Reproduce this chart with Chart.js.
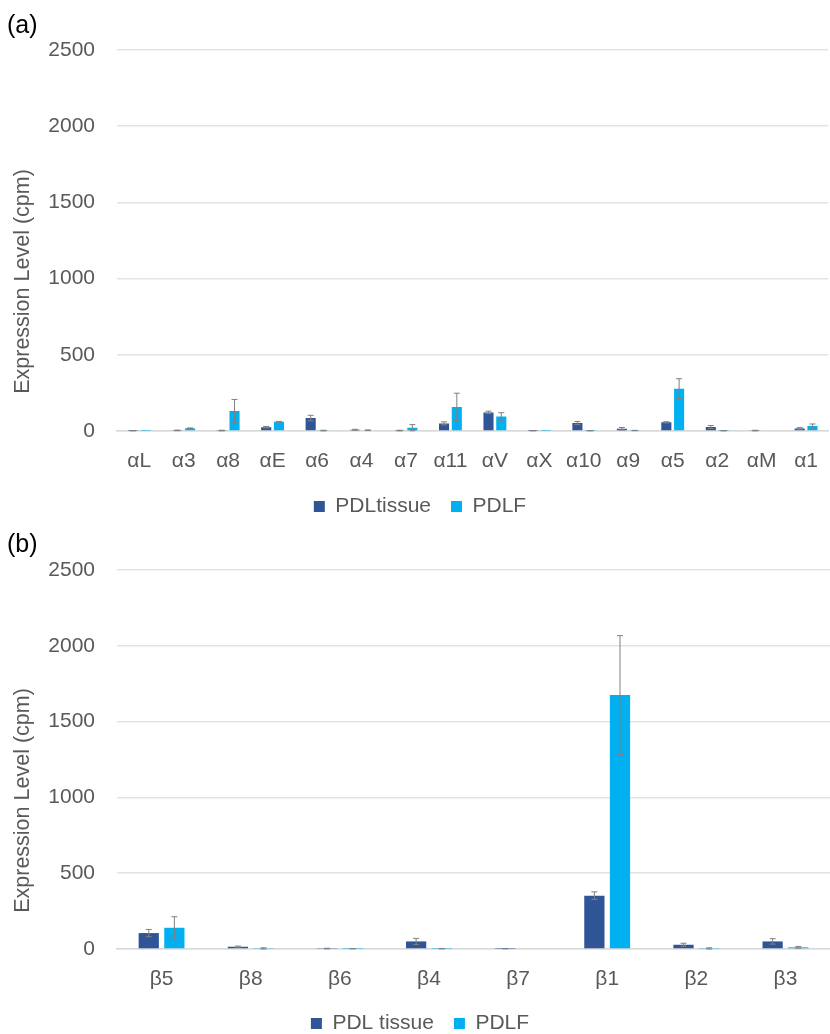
<!DOCTYPE html>
<html lang="en">
<head>
<meta charset="UTF-8">
<script src="https://cdn.jsdelivr.net/npm/chart.js@4/dist/chart.umd.min.js"></script>
<style>
*{margin:0;padding:0;box-sizing:border-box}
html,body{width:830px;height:1034px;overflow:hidden;background:#fff;font-family:"Liberation Sans",Arial,sans-serif}
.pnl{position:absolute;left:0;width:830px}
.tag{position:absolute;left:7px;font-size:25px;line-height:1;color:#000}
</style>
</head>
<body>
<div class="pnl" style="top:0;height:527px"><canvas id="ca" width="830" height="527"></canvas></div>
<div class="pnl" style="top:535px;height:509px"><canvas id="cb" width="830" height="509"></canvas></div>
<div class="tag" style="top:12px">(a)</div>
<div class="tag" style="top:531px">(b)</div>
<script>
// panel (a): alpha subunits
var alphaLabels = ["αL","α3","α8","αE","α6","α4","α7","α11","αV","αX","α10","α9","α5","α2","αM","α1"];
var alphaTissue = [2, 4, 3, 25, 85, 8, 3, 50, 122, 2, 52, 15, 57, 26, 3, 17];
var alphaTissueErr = [1, 2, 2, 5, 18, 3, 2, 10, 8, 1, 10, 8, 4, 10, 2, 5];
var alphaPdlf = [1, 18, 132, 60, 3, 5, 22, 158, 95, 2, 2, 3, 278, 2, 0, 33];
var alphaPdlfErr = [0, 2, 75, 3, 2, 2, 20, 90, 25, 0, 1, 1, 65, 1, 0, 13];

// panel (b): beta subunits
var betaLabels = ["β5","β8","β6","β4","β7","β1","β2","β3"];
var betaTissue = [105, 15, 3, 50, 2, 352, 28, 50];
var betaTissueErr = [24, 4, 2, 20, 1, 25, 10, 18];
var betaPdlf = [140, 3, 2, 2, 0, 1675, 3, 11];
var betaPdlfErr = [73, 5, 1, 1, 0, 392, 5, 6];

var yTicks = [0, 500, 1000, 1500, 2000, 2500];

var FONT = '"Liberation Sans", Arial, sans-serif';
Chart.defaults.font.family = FONT;
Chart.defaults.font.size = 21;
Chart.defaults.color = "#595959";

var errorBars = {
  id: "errorBars",
  afterDatasetsDraw: function(chart) {
    var ctx = chart.ctx, y = chart.scales.y;
    chart.data.datasets.forEach(function(ds, i) {
      var meta = chart.getDatasetMeta(i);
      meta.data.forEach(function(bar, j) {
        var v = ds.data[j], e = ds.errors[j];
        if (!e) return;
        var t = y.getPixelForValue(v + e), b = y.getPixelForValue(Math.max(v - e, 0));
        ctx.save();
        ctx.strokeStyle = "#808080";
        ctx.lineWidth = 1;
        ctx.beginPath();
        ctx.moveTo(bar.x, t); ctx.lineTo(bar.x, b);
        ctx.moveTo(bar.x - 3, t); ctx.lineTo(bar.x + 3, t);
        ctx.moveTo(bar.x - 3, b); ctx.lineTo(bar.x + 3, b);
        ctx.stroke();
        ctx.restore();
      });
    });
  }
};

var sideTitle = {
  id: "sideTitle",
  afterDraw: function(chart, args, opts) {
    var a = chart.chartArea, ctx = chart.ctx;
    ctx.save();
    ctx.translate(opts.x, (a.top + a.bottom) / 2 + opts.shift);
    ctx.rotate(-Math.PI / 2);
    ctx.font = "21.5px " + FONT;
    ctx.fillStyle = "#595959";
    ctx.textAlign = "center";
    ctx.textBaseline = "middle";
    ctx.fillText(opts.text, 0, 0);
    ctx.restore();
  }
};

function makeChart(id, labels, tissue, tissueErr, pdlf, pdlfErr, tissueName, padTop, xHeight) {
  return new Chart(document.getElementById(id), {
    type: "bar",
    data: {
      labels: labels,
      datasets: [
        {label: tissueName, data: tissue, errors: tissueErr, backgroundColor: "#2F5597", categoryPercentage: 0.575, barPercentage: 0.79},
        {label: "PDLF", data: pdlf, errors: pdlfErr, backgroundColor: "#00B0F0", categoryPercentage: 0.575, barPercentage: 0.79}
      ]
    },
    options: {
      responsive: false,
      animation: false,
      layout: {padding: {top: padTop, right: -10, left: 0, bottom: 0}},
      scales: {
        x: {
          grid: {display: false, drawTicks: true, tickLength: 6},
          border: {display: true, color: "#d9d9d9", width: 1.5},
          ticks: {padding: 12, color: "#595959"},
          afterFit: function(s) { s.height = xHeight; }
        },
        y: {
          min: 0, max: 2500,
          afterBuildTicks: function(s) { s.ticks = yTicks.map(function(v) { return {value: v}; }); },
          grid: {color: "#e3e3e3", lineWidth: 1.5, drawTicks: false},
          border: {display: false},
          ticks: {padding: 22, color: "#595959", callback: function(v) { return String(v); }},
          afterFit: function(s) { s.width = 117; }
        }
      },
      plugins: {
        legend: {
          position: "bottom",
          labels: {boxWidth: 11, boxHeight: 11, padding: 20, color: "#595959"}
        },
        tooltip: {enabled: false},
        sideTitle: {text: "Expression Level (cpm)", x: 23, shift: 41}
      }
    },
    plugins: [errorBars, sideTitle]
  });
}

makeChart("ca", alphaLabels, alphaTissue, alphaTissueErr, alphaPdlf, alphaPdlfErr, "PDLtissue", 50, 45);
makeChart("cb", betaLabels, betaTissue, betaTissueErr, betaPdlf, betaPdlfErr, "PDL tissue", 35, 44);
</script>
</body>
</html>
